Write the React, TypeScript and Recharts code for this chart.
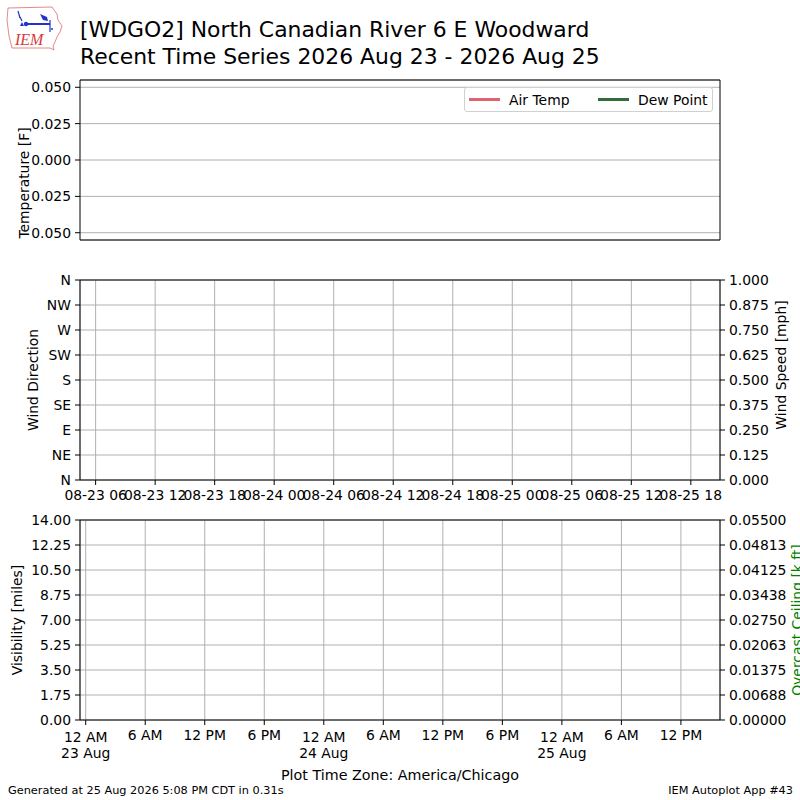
import {
  LineChart,
  Line,
  XAxis,
  YAxis,
  CartesianGrid,
  ReferenceLine,
  Legend,
} from "recharts";

// observations for the window (the station reported nothing)
const obsHours: number[] = [];
const airTemp: number[] = [];
const dewPoint: number[] = [];
const windDir: number[] = [];
const windSpeed: number[] = [];
const visibility: number[] = [];
const ceiling: number[] = [];

// time axis in hours since 23 Aug 12 AM (America/Chicago)
const timeDomain = [-0.575, 63.94];
const localHours = [0, 6, 12, 18, 24, 30, 36, 42, 48, 54, 60];
const localLabels = ["12 AM", "6 AM", "12 PM", "6 PM", "12 AM", "6 AM", "12 PM", "6 PM", "12 AM", "6 AM", "12 PM"];
const dayLabels = ["23 Aug", "", "", "", "24 Aug", "", "", "", "25 Aug", "", ""];
const utcHours = [1, 7, 13, 19, 25, 31, 37, 43, 49, 55, 61];
const utcLabels = ["08-23 06", "08-23 12", "08-23 18", "08-24 00", "08-24 06", "08-24 12", "08-24 18", "08-25 00", "08-25 06", "08-25 12", "08-25 18"];

const tempTicks = [0.05, 0.025, 0, -0.025, -0.05];
const dirTicks = [0, 45, 90, 135, 180, 225, 270, 315, 360];
const dirLabels = ["N", "NE", "E", "SE", "S", "SW", "W", "NW", "N"];
const speedTicks = [0, 0.125, 0.25, 0.375, 0.5, 0.625, 0.75, 0.875, 1];
const visTicks = [0, 1.75, 3.5, 5.25, 7, 8.75, 10.5, 12.25, 14];
const ceilTicks = [0, 0.006875, 0.01375, 0.020625, 0.0275, 0.034375, 0.04125, 0.048125, 0.055];
const ceilLabels = ["0.00000", "0.00688", "0.01375", "0.02063", "0.02750", "0.03438", "0.04125", "0.04813", "0.05500"];

const tempData = obsHours.map((h, i) => ({ h, airTemp: airTemp[i], dewPoint: dewPoint[i] }));
const windData = obsHours.map((h, i) => ({ h, dir: windDir[i], speed: windSpeed[i] }));
const visData = obsHours.map((h, i) => ({ h, vis: visibility[i], ceil: ceiling[i] }));

const FS = 13.9;
const tickStyle = { fontSize: FS, fill: "#000" };
const gridColor = "#b0b0b0";

function AxisTitle({ cx, cy, text, color = "#000" }: { cx: number; cy: number; text: string; color?: string }) {
  return (
    <text
      x={cx}
      y={cy}
      transform={`rotate(-90 ${cx} ${cy})`}
      textAnchor="middle"
      dominantBaseline="central"
      fontSize={FS}
      fill={color}
    >
      {text}
    </text>
  );
}

function LocalTick({ x, y, payload }: any) {
  const i = localHours.indexOf(payload.value);
  const day = dayLabels[i];
  return (
    <text x={x} y={y} textAnchor="middle" fontSize={FS} fill="#000">
      <tspan x={x} dy={day ? "0.85em" : "0.71em"}>{localLabels[i]}</tspan>
      {day ? <tspan x={x} dy="1.15em">{day}</tspan> : null}
    </text>
  );
}

function TempLegend({ payload }: any) {
  return (
    <div
      style={{
        display: "flex",
        alignItems: "center",
        height: 25,
        border: "1px solid #d0d0d0",
        borderRadius: 3,
        background: "rgba(255,255,255,0.8)",
        fontSize: FS,
        paddingLeft: 4,
        boxSizing: "border-box",
      }}
    >
      {(payload || []).map((p: any, i: number) => (
        <div key={i} style={{ display: "flex", alignItems: "center", width: i === 0 ? 129 : 111 }}>
          <div style={{ width: 31, height: 2.5, background: p.color, marginRight: 9 }} />
          <span>{p.value}</span>
        </div>
      ))}
    </div>
  );
}

export default function App() {
  return (
    <div
      style={{
        position: "absolute",
        left: 0,
        top: 0,
        width: 800,
        height: 800,
        background: "#fff",
        fontFamily: "'DejaVu Sans', sans-serif",
      }}
    >
      <svg width={800} height={800} style={{ position: "absolute", left: 0, top: 0 }}>
        {/* IEM logo */}
        <path
          d="M8,8 L52,7 L54,10 L57,14 L58,20 L62,26 L60,32 L57,37 L55,42 L53,46 L54,50 L50,48 L12,48 L11,44 L9,36 L8,28 L7,20 Z"
          fill="none"
          stroke="#e06a6a"
          strokeWidth={0.8}
        />
        <line x1={18} y1={11} x2={20} y2={18} stroke="#2233cc" strokeWidth={1.2} />
        <line x1={20} y1={17} x2={22} y2={21} stroke="#2233cc" strokeWidth={1.2} />
        <line x1={25} y1={24} x2={50} y2={24} stroke="#2233cc" strokeWidth={2} />
        <circle cx={26} cy={24} r={2.2} fill="#2233cc" />
        <path d="M20,26 L22,22 L24,26 Z" fill="#2233cc" />
        <path d="M40,14 L47,17 L48,21 L43,20 Z" fill="#2233cc" />
        <line x1={50} y1={20} x2={50} y2={32} stroke="#2233cc" strokeWidth={1.2} />
        <circle cx={52} cy={29} r={1} fill="#2233cc" />
        <text x={15} y={45} fontFamily="'Liberation Serif', serif" fontStyle="italic" fontSize={16} fill="#d83a3a">
          IEM
        </text>
        <text x={80} y={37} fontSize={21.9} fill="#000">
          [WDGO2] North Canadian River 6 E Woodward
        </text>
        <text x={80} y={64} fontSize={21.9} fill="#000">
          Recent Time Series 2026 Aug 23 - 2026 Aug 25
        </text>
        <text x={400} y={780} textAnchor="middle" fontSize={14.3} fill="#000">
          Plot Time Zone: America/Chicago
        </text>
        <text x={8} y={794} fontSize={11.3} fill="#000">
          Generated at 25 Aug 2026 5:08 PM CDT in 0.31s
        </text>
        <text x={793} y={794} textAnchor="end" fontSize={11.3} fill="#000">
          IEM Autoplot App #43
        </text>
      </svg>

      {/* Temperature panel */}
      <div style={{ position: "absolute", left: 0, top: 70 }}>
        <LineChart width={800} height={180} data={tempData} margin={{ top: 10, right: 0, bottom: 10, left: 0 }}>
          <CartesianGrid yAxisId="l" vertical={false} stroke={gridColor} />
          <XAxis dataKey="h" type="number" domain={timeDomain} allowDataOverflow hide />
          <YAxis
            yAxisId="l"
            width={80}
            type="number"
            domain={[-0.055, 0.055]}
            allowDataOverflow
            ticks={tempTicks}
            interval={0}
            tickFormatter={(v: number) => Math.abs(v).toFixed(3)}
            tick={tickStyle}
            tickSize={5}
            tickMargin={4}
            axisLine={{ stroke: "#000" }}
            tickLine={{ stroke: "#000" }}
            label={<AxisTitle cx={24} cy={113} text="Temperature [F]" />}
          />
          <YAxis
            yAxisId="r"
            orientation="right"
            width={80}
            type="number"
            domain={[-0.055, 0.055]}
            tick={false}
            tickLine={false}
            axisLine={{ stroke: "#000" }}
          />
          <ReferenceLine yAxisId="l" y={0.055} stroke="#000" />
          <ReferenceLine yAxisId="l" y={-0.055} stroke="#000" />
          <Line yAxisId="l" dataKey="airTemp" name="Air Temp" stroke="#e0646e" strokeWidth={2} dot={false} isAnimationActive={false} />
          <Line yAxisId="l" dataKey="dewPoint" name="Dew Point" stroke="#356b39" strokeWidth={2} dot={false} isAnimationActive={false} />
          <Legend
            layout="vertical"
            align="center"
            verticalAlign="middle"
            content={<TempLegend />}
            wrapperStyle={{ left: 464, top: 17, width: 249, height: 25 }}
          />
        </LineChart>
      </div>

      {/* Wind panel */}
      <div style={{ position: "absolute", left: 0, top: 270 }}>
        <LineChart width={800} height={250} data={windData} margin={{ top: 10, right: 0, bottom: 0, left: 0 }}>
          <CartesianGrid yAxisId="l" stroke={gridColor} />
          <XAxis
            dataKey="h"
            type="number"
            domain={timeDomain}
            allowDataOverflow
            ticks={utcHours}
            interval={0}
            height={40}
            tickFormatter={(v: number) => utcLabels[utcHours.indexOf(v)]}
            tick={tickStyle}
            tickSize={5}
            tickMargin={5}
            axisLine={{ stroke: "#000" }}
            tickLine={{ stroke: "#000" }}
          />
          <YAxis
            yAxisId="l"
            width={80}
            type="number"
            domain={[0, 360]}
            allowDataOverflow
            ticks={dirTicks}
            interval={0}
            tickFormatter={(v: number) => dirLabels[dirTicks.indexOf(v)]}
            tick={tickStyle}
            tickSize={5}
            tickMargin={4}
            axisLine={{ stroke: "#000" }}
            tickLine={{ stroke: "#000" }}
            label={<AxisTitle cx={33} cy={110} text="Wind Direction" />}
          />
          <YAxis
            yAxisId="r"
            orientation="right"
            width={80}
            type="number"
            domain={[0, 1]}
            allowDataOverflow
            ticks={speedTicks}
            interval={0}
            tickFormatter={(v: number) => v.toFixed(3)}
            tick={tickStyle}
            tickSize={5}
            tickMargin={4}
            axisLine={{ stroke: "#000" }}
            tickLine={{ stroke: "#000" }}
            label={<AxisTitle cx={781} cy={95} text="Wind Speed [mph]" />}
          />
          <ReferenceLine yAxisId="l" y={360} stroke="#000" />
          <Line yAxisId="l" dataKey="dir" stroke="#1f77b4" dot={false} isAnimationActive={false} />
          <Line yAxisId="r" dataKey="speed" stroke="#ff7f0e" dot={false} isAnimationActive={false} />
        </LineChart>
      </div>

      {/* Visibility / ceiling panel */}
      <div style={{ position: "absolute", left: 0, top: 510 }}>
        <LineChart width={800} height={270} data={visData} margin={{ top: 10, right: 0, bottom: 0, left: 0 }}>
          <CartesianGrid yAxisId="l" stroke={gridColor} />
          <XAxis
            dataKey="h"
            type="number"
            domain={timeDomain}
            allowDataOverflow
            ticks={localHours}
            interval={0}
            height={60}
            tick={<LocalTick />}
            tickSize={5}
            tickMargin={5}
            axisLine={{ stroke: "#000" }}
            tickLine={{ stroke: "#000" }}
          />
          <YAxis
            yAxisId="l"
            width={80}
            type="number"
            domain={[0, 14]}
            allowDataOverflow
            ticks={visTicks}
            interval={0}
            tickFormatter={(v: number) => v.toFixed(2)}
            tick={tickStyle}
            tickSize={5}
            tickMargin={4}
            axisLine={{ stroke: "#000" }}
            tickLine={{ stroke: "#000" }}
            label={<AxisTitle cx={17} cy={110} text="Visibility [miles]" />}
          />
          <YAxis
            yAxisId="r"
            orientation="right"
            width={80}
            type="number"
            domain={[0, 0.055]}
            allowDataOverflow
            ticks={ceilTicks}
            interval={0}
            tickFormatter={(v: number) => ceilLabels[ceilTicks.indexOf(v)]}
            tick={tickStyle}
            tickSize={5}
            tickMargin={4}
            axisLine={{ stroke: "#000" }}
            tickLine={{ stroke: "#000" }}
            label={<AxisTitle cx={797} cy={110} text="Overcast Ceiling [k ft]" color="#008000" />}
          />
          <ReferenceLine yAxisId="l" y={14} stroke="#000" />
          <Line yAxisId="l" dataKey="vis" stroke="#000" dot={false} isAnimationActive={false} />
          <Line yAxisId="r" dataKey="ceil" stroke="#008000" dot={false} isAnimationActive={false} />
        </LineChart>
      </div>
    </div>
  );
}
